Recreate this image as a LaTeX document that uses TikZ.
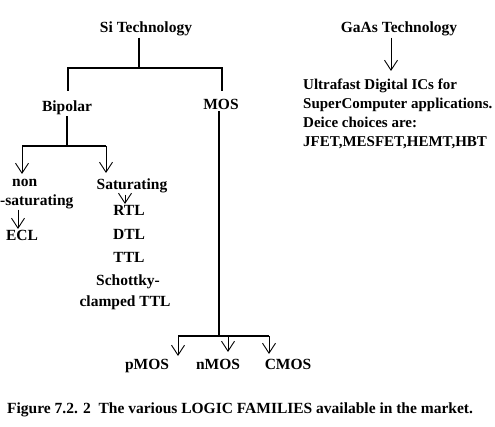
\documentclass[tikz,border=0pt]{standalone}
\usepackage{fontspec}
\setmainfont{Liberation Serif}
\usetikzlibrary{arrows.meta}
\tikzset{
  lab/.style={font=\fontsize{15.5}{19.3}\selectfont\bfseries,inner sep=1pt,anchor=base},
  tree/.style={draw=black,line width=1.2pt},
  arr/.style={draw=black,line width=0.9pt,-{Straight Barb[length=10pt,width=13pt]}},
}

\begin{document}
\begin{tikzpicture}[x=1pt,y=-1pt]
\useasboundingbox (0,0) rectangle (495,427);
% the two technologies
\node[lab] (si) at (146,33) {Si Technology};
\node[lab] (gaas) at (399,33) {GaAs Technology};
\node[lab,anchor=base west,align=left,font=\fontsize{15}{19.3}\selectfont\bfseries] (ultra) at (302,147)
  {Ultrafast Digital ICs for\\SuperComputer applications.\\Deice choices are:\\JFET,MESFET,HEMT,HBT};
% Si branches
\node[lab] (bip) at (67,112) {Bipolar};
\node[lab] (mos) at (221,110) {MOS};
\node[lab,anchor=base west,align=left,inner sep=0pt] (nonsat) at (0,206) {\hspace*{12pt}non\\-saturating};
\node[lab] (ecl) at (22,241) {ECL};
\node[lab] (sat) at (132,190) {Saturating};
\node[lab] (rtl) at (129,216) {RTL};
\node[lab] (dtl) at (129,240) {DTL};
\node[lab] (ttl) at (129,263) {TTL};
\node[lab] (schottky) at (128,286) {Schottky-};
\node[lab] (clamped) at (125,307) {clamped TTL};
\node[lab] (pmos) at (147,370) {pMOS};
\node[lab] (nmos) at (218,370) {nMOS};
\node[lab] (cmos) at (288,370) {CMOS};
% junctions
\coordinate (siJ) at (139,68);
\coordinate (bipJ) at (67,146);
\coordinate (mosJ) at (219,336);
\coordinate (bipT) at (68,91);
\coordinate (mosT) at (222,91);
\coordinate (nonT) at (22,174);
\coordinate (satT) at (106,173);
\coordinate (rtlT) at (125,204);
\coordinate (eclT) at (18,229);
\coordinate (pT) at (178,356);
\coordinate (nT) at (228,352);
\coordinate (cT) at (269,354);
\coordinate (gaasT) at (391,71);
% Si tree
\draw[tree] (si.south -| siJ) -- (siJ);
\draw[tree] (bipT) -- (bipT |- siJ) -- (mosT |- siJ) -- (mosT);
\draw[tree] (bip.south -| bipJ) -- (bipJ);
\draw[tree] (nonT |- bipJ) -- (satT |- bipJ);
\draw[arr] (nonT |- bipJ) -- (nonT);
\draw[arr] (satT |- bipJ) -- (satT);
\draw[arr] (sat.south -| rtlT) -- (rtlT);
\draw[arr] (nonsat.south -| eclT) -- (eclT);
\draw[tree] (mos.south -| mosJ) -- (mosJ);
\draw[tree] (pT |- mosJ) -- (cT |- mosJ);
\draw[arr] (pT |- mosJ) -- (pT);
\draw[arr] (nT |- mosJ) -- (nT);
\draw[arr] (cT |- mosJ) -- (cT);
% GaAs
\draw[arr] (gaas.south -| gaasT) -- (gaasT);
\node[lab,anchor=base west] (caption) at (6,413) {Figure 7.2. 2\ \ The various LOGIC FAMILIES available in the market.};
\end{tikzpicture}
\end{document}
